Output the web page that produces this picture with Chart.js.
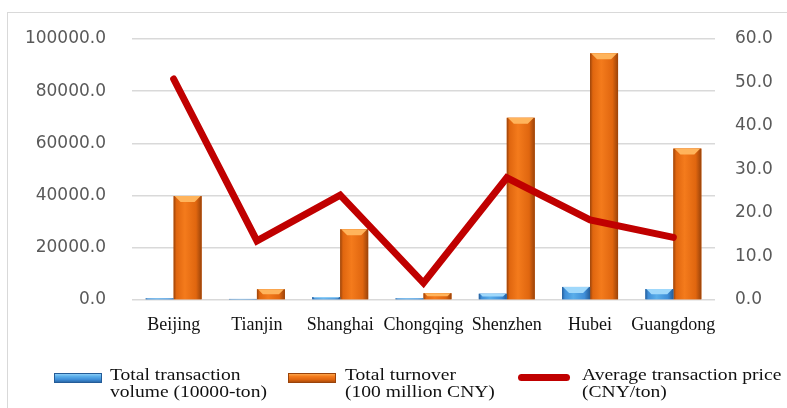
<!DOCTYPE html>
<html>
<head>
<meta charset="utf-8">
<script src="https://cdn.jsdelivr.net/npm/chart.js@4/dist/chart.umd.min.js"></script>
<style>
  body { margin: 0; background: #fff; }
  #wrap { position: relative; width: 787px; height: 408px; overflow: hidden; }
  #frame { position: absolute; left: 7px; top: 12px; width: 820px; height: 420px; border: 1.5px solid #d9d9d9; }
  canvas { position: absolute; left: 0; top: 0; }
  .sw { position: absolute; }
  .lt { position: absolute; font: 17px "Liberation Serif", "Times New Roman", serif; line-height: 17px;
        color: #111; transform: scaleX(1.15); transform-origin: left top; white-space: nowrap; }
</style>
</head>
<body>
<div id="wrap">
  <div id="frame"></div>
  <canvas id="chart" width="787" height="408"></canvas>
  <div id="legend"></div>
</div>
<script>
// Data
const categories = ['Beijing', 'Tianjin', 'Shanghai', 'Chongqing', 'Shenzhen', 'Hubei', 'Guangdong'];
const volume = [600, 400, 1100, 600, 2400, 5000, 4200];          // 10000-ton
const turnover = [39800, 4100, 27100, 2600, 69800, 94500, 58000]; // 100 million CNY
const price = [50.8, 13.6, 24.1, 3.9, 28.1, 18.4, 14.4];          // CNY/ton
const leftTicks = [0, 20000, 40000, 60000, 80000, 100000];
const rightTicks = [0, 10, 20, 30, 40, 50, 60];

const seriesNames = [
  ['Total transaction', 'volume (10000-ton)'],
  ['Total turnover', '(100 million CNY)'],
  ['Average transaction price', '(CNY/ton)']
];

// colours for the bevelled bars
const bevel = {
  blue: { dark: '#245c98', main: '#3f8ed8', light: '#5aaeea', cap: '#9fd8fb' },
  orange: { dark: '#9a430a', main: '#e0660f', light: '#f47b1c', cap: '#ffb45c' }
};

// Draw each bar again with a horizontal gradient and a light top cap
const bevelPlugin = {
  id: 'bevel',
  afterDatasetDraw(chart, args) {
    const ds = chart.data.datasets[args.index];
    if (!ds.bevel) return;
    const c = bevel[ds.bevel];
    const ctx = chart.ctx;
    ctx.save();
    args.meta.data.forEach(bar => {
      const p = bar.getProps(['x', 'y', 'width', 'base'], true);
      const left = p.x - p.width / 2;
      const right = p.x + p.width / 2;
      const top = Math.min(p.y, p.base);
      const h = Math.abs(p.base - p.y);
      if (h <= 0) return;
      const g = ctx.createLinearGradient(left, 0, right, 0);
      g.addColorStop(0, c.dark);
      g.addColorStop(0.1, c.main);
      g.addColorStop(0.4, c.light);
      g.addColorStop(0.8, c.main);
      g.addColorStop(1, c.dark);
      ctx.fillStyle = g;
      ctx.fillRect(left, top, p.width, h);
      const cap = Math.min(6, h / 2);
      ctx.fillStyle = c.cap;
      ctx.beginPath();
      ctx.moveTo(left + 1, top);
      ctx.lineTo(right - 1, top);
      ctx.lineTo(right - cap - 1, top + cap);
      ctx.lineTo(left + cap + 1, top + cap);
      ctx.closePath();
      ctx.fill();
    });
    ctx.restore();
  }
};

const tickFont = { family: '"DejaVu Sans", sans-serif', size: 17 };

new Chart(document.getElementById('chart'), {
  data: {
    labels: categories,
    datasets: [
      {
        type: 'line', label: seriesNames[2].join(' '), data: price, yAxisID: 'y1',
        borderColor: '#c00000', borderWidth: 7, pointRadius: 0,
        borderCapStyle: 'round', borderJoinStyle: 'miter', tension: 0, order: 0
      },
      {
        type: 'bar', label: seriesNames[0].join(' '), data: volume, yAxisID: 'y',
        backgroundColor: bevel.blue.main, bevel: 'blue', order: 1,
        barPercentage: 1, categoryPercentage: 0.672
      },
      {
        type: 'bar', label: seriesNames[1].join(' '), data: turnover, yAxisID: 'y',
        backgroundColor: bevel.orange.main, bevel: 'orange', order: 1,
        barPercentage: 1, categoryPercentage: 0.672
      }
    ]
  },
  options: {
    responsive: false,
    animation: false,
    layout: { padding: { top: 39, bottom: 68, left: 0, right: 0 } },
    plugins: { legend: { display: false }, tooltip: { enabled: false } },
    scales: {
      x: {
        grid: { display: false },
        border: { display: false },
        ticks: { color: '#111', padding: 6, maxRotation: 0, autoSkip: false,
                 font: { family: '"Liberation Serif", "Times New Roman", serif', size: 18 } },
        afterFit(scale) { scale.height = 40; }
      },
      y: {
        position: 'left', min: 0, max: 100000,
        afterBuildTicks(scale) { scale.ticks = leftTicks.map(v => ({ value: v })); },
        grid: { color: '#d9d9d9', lineWidth: 1.5, drawTicks: false },
        border: { display: false },
        ticks: { color: '#595959', padding: 26, font: tickFont, callback: v => v.toFixed(1) },
        afterFit(scale) { scale.width = 132; }
      },
      y1: {
        position: 'right', min: 0, max: 60,
        afterBuildTicks(scale) { scale.ticks = rightTicks.map(v => ({ value: v })); },
        grid: { display: false, drawTicks: false },
        border: { display: false },
        ticks: { color: '#595959', padding: 20, font: tickFont, callback: v => v.toFixed(1) },
        afterFit(scale) { scale.width = 72; }
      }
    }
  },
  plugins: [bevelPlugin]
});

// HTML legend (two-line labels)
const legend = document.getElementById('legend');
const legendItems = [
  { swatch: 'blue', sx: 54, tx: 110 },
  { swatch: 'orange', sx: 288, tx: 345 },
  { swatch: 'line', sx: 518, tx: 582 }
];
legendItems.forEach((it, i) => {
  const sw = document.createElement('div');
  sw.className = 'sw';
  if (it.swatch === 'line') {
    Object.assign(sw.style, { left: it.sx + 'px', top: '374px', width: '52px', height: '7px',
      background: '#c00000', borderRadius: '4px' });
  } else {
    const c = bevel[it.swatch];
    Object.assign(sw.style, { left: it.sx + 'px', top: '373px', width: '48px', height: '10px',
      background: `linear-gradient(to bottom, ${c.cap} 0%, ${c.light} 35%, ${c.main} 65%, ${c.dark} 100%)`,
      boxShadow: `inset 0 0 0 1px ${c.dark}` });
  }
  legend.appendChild(sw);
  const tx = document.createElement('div');
  tx.className = 'lt';
  tx.style.left = it.tx + 'px';
  tx.style.top = '366px';
  tx.innerHTML = seriesNames[i].join('<br>');
  legend.appendChild(tx);
});
</script>
</body>
</html>
